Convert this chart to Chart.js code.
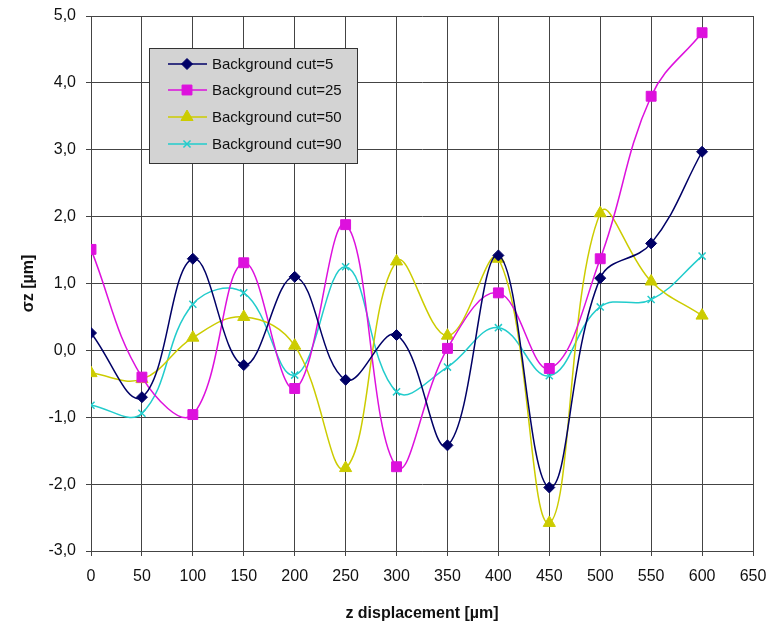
<!DOCTYPE html>
<html>
<head>
<meta charset="utf-8">
<script src="https://cdn.jsdelivr.net/npm/chart.js@4.4.1/dist/chart.umd.min.js"></script>
<style>
  html, body { margin: 0; padding: 0; background: #fff; }
  #wrap { width: 779px; height: 632px; }
</style>
</head>
<body>
<div id="wrap"><canvas id="chart" width="779" height="632"></canvas></div>
<script>
// z displacement [µm]
var xValues = [0, 50, 100, 150, 200, 250, 300, 350, 400, 450, 500, 550, 600];
// sigma z [µm] per background cut
var cut5  = [0.26, -0.70, 1.37, -0.22, 1.10, -0.44, 0.23, -1.42, 1.42, -2.05, 1.08, 1.60, 2.97];
var cut25 = [1.51, -0.40, -0.96, 1.31, -0.57, 1.88, -1.74, 0.03, 0.86, -0.27, 1.37, 3.80, 4.75];
var cut50 = [-0.34, -0.43, 0.19, 0.50, 0.07, -1.76, 1.33, 0.22, 1.37, -2.58, 2.05, 1.03, 0.52];
var cut90 = [-0.82, -0.94, 0.69, 0.86, -0.37, 1.25, -0.62, -0.25, 0.34, -0.38, 0.65, 0.76, 1.41];
var seriesLabels = ["Background cut=5", "Background cut=25", "Background cut=50", "Background cut=90"];

var FONT = "'Liberation Sans', Arial, sans-serif";

function pts(ys) {
    var out = [];
    for (var i = 0; i < xValues.length; i++) {
        out.push({x: xValues[i], y: ys[i]});
    }
    return out;
}

function makeSet(label, ys, color, style, radius) {
    return {
        label: label,
        data: pts(ys),
        borderColor: color,
        backgroundColor: color,
        borderWidth: 1.5,
        tension: 0.4,
        pointStyle: style,
        pointRadius: radius,
        pointBorderWidth: style === 'crossRot' ? 1.5 : 1,
        pointBorderColor: color,
        pointBackgroundColor: color
    };
}

// legend box drawn inside the plot, like the excel one
var boxLegend = {
    id: 'boxLegend',
    afterDraw: function (chart) {
        var ctx = chart.ctx;
        var x0 = 149, y0 = 48, w = 208, h = 115;
        ctx.save();
        ctx.fillStyle = '#d3d3d3';
        ctx.fillRect(x0, y0, w, h);
        ctx.strokeStyle = '#333';
        ctx.lineWidth = 1;
        ctx.strokeRect(x0 + 0.5, y0 + 0.5, w, h);
        var rows = [64, 90, 117, 144];
        chart.data.datasets.forEach(function (ds, i) {
            var y = rows[i];
            ctx.strokeStyle = ds.borderColor;
            ctx.lineWidth = 1.5;
            ctx.beginPath();
            ctx.moveTo(168, y);
            ctx.lineTo(207, y);
            ctx.stroke();
            ctx.fillStyle = ds.pointBackgroundColor;
            ctx.strokeStyle = ds.pointBorderColor;
            ctx.lineWidth = ds.pointBorderWidth;
            Chart.helpers.drawPoint(ctx, {pointStyle: ds.pointStyle, radius: ds.pointRadius, borderWidth: ds.pointBorderWidth}, 187, y);
            ctx.fillStyle = '#111';
            ctx.font = '15px ' + FONT;
            ctx.textBaseline = 'middle';
            ctx.textAlign = 'left';
            ctx.fillText(ds.label, 212, y + 1);
        });
        ctx.restore();
    }
};

var ctx = document.getElementById('chart');
var myChart = new Chart(ctx, {
    type: 'line',
    data: {
        datasets: [
            makeSet(seriesLabels[0], cut5, '#000066', 'rectRot', 5.5),
            makeSet(seriesLabels[1], cut25, '#dd11dd', 'rect', 7),
            makeSet(seriesLabels[2], cut50, '#cccc00', 'triangle', 7),
            makeSet(seriesLabels[3], cut90, '#22cccc', 'crossRot', 5)
        ]
    },
    options: {
        responsive: false,
        animation: false,
        layout: { padding: { top: 16, right: 26, left: 0, bottom: 0 } },
        plugins: {
            legend: { display: false },
            tooltip: { enabled: false }
        },
        scales: {
            x: {
                type: 'linear',
                min: 0,
                max: 650,
                afterFit: function (scale) { scale.height = 81; },
                ticks: {
                    stepSize: 50,
                    color: '#111',
                    padding: 11,
                    maxRotation: 0,
                    font: { family: FONT, size: 16 }
                },
                grid: { color: '#444', lineWidth: 1, tickLength: 5 },
                border: { color: '#444', width: 1 },
                title: {
                    display: true,
                    text: 'z displacement [µm]',
                    color: '#111',
                    padding: { top: 10, bottom: 9 },
                    font: { family: FONT, size: 16, weight: 'bold' }
                }
            },
            y: {
                min: -3,
                max: 5,
                afterFit: function (scale) {
                    scale.width = 91;
                    scale.paddingTop = 0;
                    scale.paddingBottom = 0;
                },
                ticks: {
                    stepSize: 1,
                    color: '#111',
                    padding: 10,
                    font: { family: FONT, size: 16 },
                    callback: function (v) { return v.toFixed(1).replace('.', ','); }
                },
                grid: { color: '#444', lineWidth: 1, tickLength: 5 },
                border: { color: '#444', width: 1 },
                title: {
                    display: true,
                    text: 'σz [µm]',
                    color: '#111',
                    padding: { top: 19, bottom: 4 },
                    font: { family: FONT, size: 16, weight: 'bold' }
                }
            }
        }
    },
    plugins: [boxLegend]
});
</script>
</body>
</html>
